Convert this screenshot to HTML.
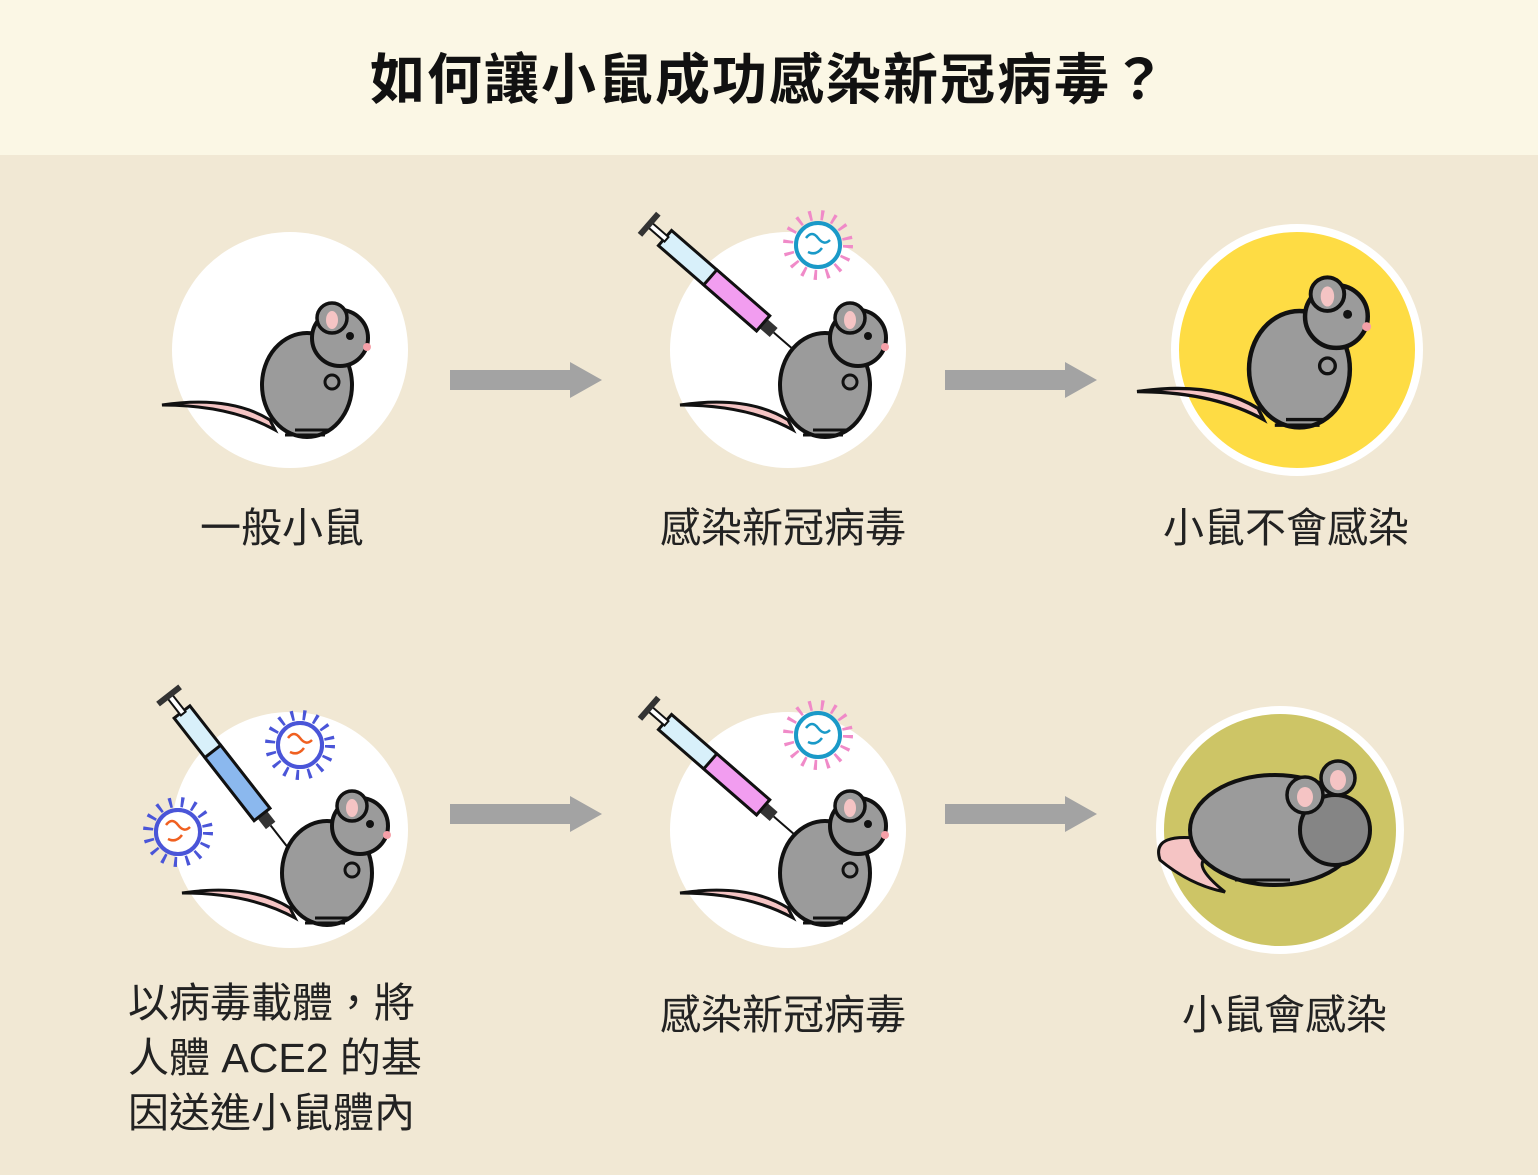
<!DOCTYPE html>
<html><head><meta charset="utf-8"><style>
body{margin:0;width:1538px;height:1175px;background:#f1e8d4;font-family:"Liberation Sans","Noto Sans CJK TC",sans-serif;position:relative;overflow:hidden}
.hd{position:absolute;left:0;top:0;width:1538px;height:155px;background:#fbf7e5}
.t{position:absolute;left:0;width:1538px;text-align:center;top:35px;font-size:55px;font-weight:bold;color:#111;letter-spacing:2px}
.l{position:absolute;font-size:41px;color:#222;white-space:nowrap}
svg{position:absolute;left:0;top:0}
</style></head><body>
<div class="hd"></div>
<div class="t">如何讓小鼠成功感染新冠病毒？</div>
<svg width="1538" height="1175" viewBox="0 0 1538 1175">
<defs>
<g id="m">
<path d="M0,70 Q-40,45 -108,55 Q-40,55 5,80 Z" fill="#f5c4c4" stroke="#111" stroke-width="3"/>
<ellipse cx="37" cy="35" rx="45" ry="52" fill="#9b9b9b" stroke="#111" stroke-width="4"/>
<circle cx="70" cy="-12" r="28" fill="#9b9b9b" stroke="#111" stroke-width="4"/>
<circle cx="62" cy="-32" r="15" fill="#9b9b9b" stroke="#111" stroke-width="3.5"/>
<ellipse cx="62" cy="-30" rx="6" ry="9" fill="#f5c4c4"/>
<circle cx="80" cy="-14" r="4" fill="#111"/>
<circle cx="97" cy="-3" r="4" fill="#f5a0a8"/>
<circle cx="62" cy="32" r="7" fill="#9b9b9b" stroke="#111" stroke-width="3"/>
<path d="M15,85 L55,85 M25,80 L60,80" stroke="#111" stroke-width="3" fill="none"/>
</g>
<g id="s">
<rect x="0" y="-10" width="130" height="20" fill="#d8f0fa" stroke="#111" stroke-width="3"/>
<rect x="-20" y="-3" width="22" height="6" fill="#fff" stroke="#111" stroke-width="2"/>
<rect x="-24" y="-14" width="6" height="28" fill="#333"/>
<rect x="130" y="-6" width="14" height="12" fill="#333"/>
<line x1="144" y1="0" x2="170" y2="0" stroke="#111" stroke-width="2"/>
</g>
<g id="v">
<circle r="30" fill="none" stroke-dasharray="3 9" stroke-width="10"/>
<circle r="22" fill="#fff" stroke-width="4"/>
</g>
</defs>
<circle cx="290" cy="350" r="118" fill="#fff"/>
<circle cx="788" cy="350" r="118" fill="#fff"/>
<circle cx="1297" cy="350" r="122" fill="#fedc44" stroke="#fff" stroke-width="8"/>
<circle cx="290" cy="830" r="118" fill="#fff"/>
<circle cx="788" cy="830" r="118" fill="#fff"/>
<circle cx="1280" cy="830" r="120" fill="#cdc566" stroke="#fff" stroke-width="8"/>
<g fill="#a3a3a3">
<path d="M450,370 H570 V362 L602,380 L570,398 V390 H450Z"/>
<path d="M945,370 H1065 V362 L1097,380 L1065,398 V390 H945Z"/>
<path d="M450,804 H570 V796 L602,814 L570,832 V824 H450Z"/>
<path d="M945,804 H1065 V796 L1097,814 L1065,832 V824 H945Z"/>
</g>
<use href="#m" transform="translate(270,350)"/>
<use href="#m" transform="translate(788,350)"/>
<use href="#m" transform="translate(1258,330) scale(1.12)"/>
<use href="#m" transform="translate(290,838)"/>
<use href="#m" transform="translate(788,838)"/>
<path d="M1210,840 Q1150,830 1160,860 Q1190,885 1225,892 Q1185,860 1215,855Z" fill="#f5c4c4" stroke="#111" stroke-width="3"/>
<ellipse cx="1275" cy="830" rx="85" ry="55" fill="#9b9b9b" stroke="#111" stroke-width="4"/>
<circle cx="1335" cy="830" r="35" fill="#858585" stroke="#111" stroke-width="4"/>
<circle cx="1305" cy="795" r="18" fill="#9b9b9b" stroke="#111" stroke-width="3.5"/>
<circle cx="1338" cy="778" r="17" fill="#9b9b9b" stroke="#111" stroke-width="3.5"/>
<ellipse cx="1305" cy="797" rx="8" ry="10" fill="#f5c4c4"/><ellipse cx="1338" cy="780" rx="8" ry="10" fill="#f5c4c4"/>
<path d="M1235,880 H1290" stroke="#111" stroke-width="3"/>
<use href="#s" transform="translate(665,238) rotate(41)"/>
<use href="#s" transform="translate(665,722) rotate(41)"/>
<use href="#s" transform="translate(182,712) rotate(52)"/>
<g transform="translate(665,238) rotate(41)"><rect x="60" y="-10" width="70" height="20" fill="#f29df0" stroke="#111" stroke-width="3"/></g>
<g transform="translate(665,722) rotate(41)"><rect x="60" y="-10" width="70" height="20" fill="#f29df0" stroke="#111" stroke-width="3"/></g>
<g transform="translate(182,712) rotate(52)"><rect x="50" y="-10" width="80" height="20" fill="#8bb8ee" stroke="#111" stroke-width="3"/></g>
<use href="#v" transform="translate(818,245)" stroke="#f08ac8"/>
<circle cx="818" cy="245" r="22" fill="#fff" stroke="#1a9ac8" stroke-width="4"/>
<use href="#v" transform="translate(818,735)" stroke="#f08ac8"/>
<circle cx="818" cy="735" r="22" fill="#fff" stroke="#1a9ac8" stroke-width="4"/>
<use href="#v" transform="translate(300,745)" stroke="#4a55d8"/>
<circle cx="300" cy="745" r="22" fill="#fff" stroke="#4a55d8" stroke-width="4"/>
<use href="#v" transform="translate(178,832)" stroke="#4a55d8"/>
<circle cx="178" cy="832" r="22" fill="#fff" stroke="#4a55d8" stroke-width="4"/>
<g fill="none" stroke-width="2.5">
<path d="M806,238 q6,-8 12,0 t12,2 M808,252 q8,4 14,-4" stroke="#1a9ac8"/>
<path d="M806,728 q6,-8 12,0 t12,2 M808,742 q8,4 14,-4" stroke="#1a9ac8"/>
<path d="M288,738 q6,-8 12,0 t12,2 M290,752 q8,4 14,-4" stroke="#f06020"/>
<path d="M166,825 q6,-8 12,0 t12,2 M168,839 q8,4 14,-4" stroke="#f06020"/>
</g>
</svg>
<div class="l" style="left:200px;top:494px">一般小鼠</div>
<div class="l" style="left:660px;top:494px">感染新冠病毒</div>
<div class="l" style="left:1163px;top:494px">小鼠不會感染</div>
<div class="l" style="left:128px;top:976px;line-height:55px">以病毒載體，將<br>人體 ACE2 的基<br>因送進小鼠體內</div>
<div class="l" style="left:660px;top:981px">感染新冠病毒</div>
<div class="l" style="left:1182px;top:981px">小鼠會感染</div>
</body></html>
